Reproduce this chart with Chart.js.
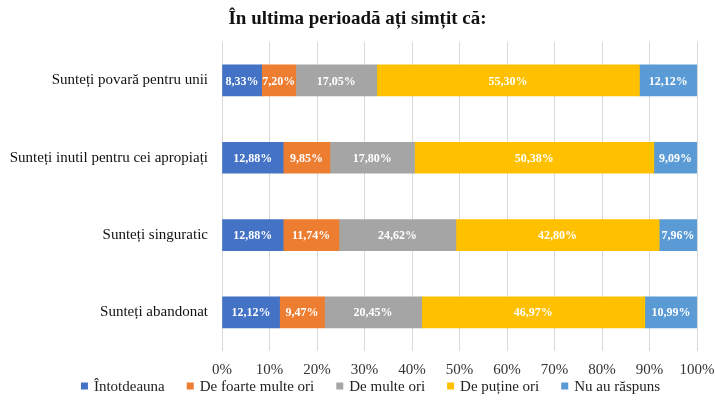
<!DOCTYPE html>
<html lang="ro">
  <head>
    <meta charset="UTF-8" />
    <title>În ultima perioadă ați simțit că</title>
    <script src="https://cdn.jsdelivr.net/npm/chart.js@4/dist/chart.umd.min.js"></script>
    <style>
      html, body { margin: 0; padding: 0; background: #fff; }
      #grafic { display: block; }
    </style>
  </head>
  <body>
    <canvas id="grafic" width="715" height="401"></canvas>

    <script>
      const categorii = [
        "Sunteți povară pentru unii",
        "Sunteți inutil pentru cei apropiați",
        "Sunteți singuratic",
        "Sunteți abandonat",
      ];
      const serii = ["Întotdeauna", "De foarte multe ori", "De multe ori", "De puține ori", "Nu au răspuns"];
      const intotdeauna = [8.33, 12.88, 12.88, 12.12];
      const foarteMulte = [7.2, 9.85, 11.74, 9.47];
      const multe = [17.05, 17.8, 24.62, 20.45];
      const putine = [55.3, 50.38, 42.8, 46.97];
      const nuAuRaspuns = [12.12, 9.09, 7.96, 10.99];
      const tickuriX = [0, 10, 20, 30, 40, 50, 60, 70, 80, 90, 100];

      const culori = ["#4472C4", "#ED7D31", "#A5A5A5", "#FFC000", "#5B9BD5"];
      const valori = [intotdeauna, foarteMulte, multe, putine, nuAuRaspuns];

      const serif = "'Liberation Serif', 'Times New Roman', serif";

      // etichetele albe din interiorul barelor
      const eticheteBare = {
        id: "eticheteBare",
        afterDatasetsDraw(chart) {
          const ctx = chart.ctx;
          ctx.save();
          ctx.fillStyle = "#fff";
          ctx.font = "bold 12px " + serif;
          ctx.textAlign = "center";
          ctx.textBaseline = "middle";
          chart.data.datasets.forEach((ds, i) => {
            chart.getDatasetMeta(i).data.forEach((bar, j) => {
              const txt = ds.data[j].toFixed(2).replace(".", ",") + "%";
              const cx = (bar.x + bar.base) / 2;
              ctx.fillText(txt, cx, bar.y + 1);
            });
          });
          ctx.restore();
        },
      };

      // legenda de jos, desenata manual ca sa fie mai compacta
      const legendaJos = {
        id: "legendaJos",
        afterDraw(chart) {
          const ctx = chart.ctx;
          const box = 7, gapText = 6, gapItem = 22;
          ctx.save();
          ctx.font = "15px " + serif;
          ctx.textBaseline = "middle";
          const items = chart.data.datasets.map((ds) => ({
            text: ds.label,
            color: ds.backgroundColor,
            w: box + gapText + ctx.measureText(ds.label).width,
          }));
          const total = items.reduce((s, it) => s + it.w, 0) + gapItem * (items.length - 1);
          let x = chart.width / 2 + 13 - total / 2;
          const y = 387;
          items.forEach((it) => {
            ctx.fillStyle = it.color;
            ctx.fillRect(x, y - box / 2 - 1, box, box);
            ctx.fillStyle = "#222";
            ctx.fillText(it.text, x + box + gapText, y);
            x += it.w + gapItem;
          });
          ctx.restore();
        },
      };

      new Chart("grafic", {
        type: "bar",
        data: {
          labels: categorii,
          datasets: serii.map((nume, i) => ({
            label: nume,
            data: valori[i],
            backgroundColor: culori[i],
            borderWidth: 0,
            barThickness: 31,
          })),
        },
        options: {
          indexAxis: "y",
          responsive: false,
          animation: false,
          layout: { padding: { left: 0, right: 0, top: 0, bottom: 12 } },
          plugins: {
            title: {
              display: true,
              text: "În ultima perioadă ați simțit că:",
              color: "#111",
              font: { family: serif, size: 19, weight: "bold" },
              padding: { top: 8, bottom: 11 },
            },
            legend: { display: false },
            tooltip: { enabled: false },
          },
          scales: {
            x: {
              stacked: true,
              min: 0,
              max: 100,
              afterBuildTicks(scale) {
                scale.ticks = tickuriX.map((v) => ({ value: v }));
              },
              afterFit(scale) {
                scale.paddingRight = 18;
                scale.paddingLeft = 0;
              },
              ticks: {
                color: "#333",
                font: { family: serif, size: 15 },
                padding: 10,
                callback: (v) => v + "%",
              },
              grid: { color: "#d9d9d9", drawTicks: false },
              border: { display: false },
            },
            y: {
              stacked: true,
              afterFit(scale) {
                scale.width = 222;
              },
              ticks: {
                color: "#111",
                font: { family: serif, size: 15 },
                padding: 14,
              },
              grid: { display: false, drawTicks: false },
              border: { display: false },
            },
          },
        },
        plugins: [eticheteBare, legendaJos],
      });
    </script>
  </body>
</html>
